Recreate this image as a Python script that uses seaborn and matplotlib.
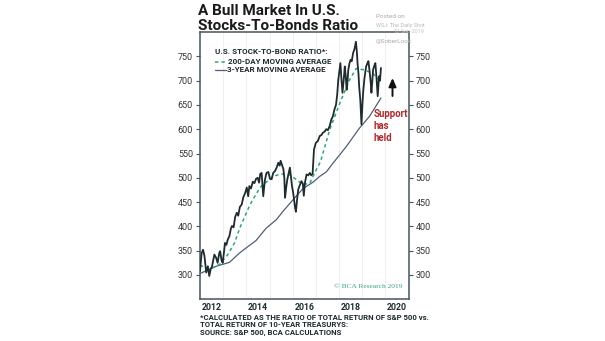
import matplotlib
matplotlib.use("Agg")
import matplotlib.pyplot as plt
import seaborn as sns
import pandas as pd

# ---- data (decimal years, ratio values) ----
main_years = [2012.00, 2012.07, 2012.13, 2012.19, 2012.27, 2012.34, 2012.40, 2012.46, 2012.52,
              2012.62, 2012.70, 2012.76, 2012.83, 2012.87, 2012.93, 2012.98, 2013.04, 2013.08,
              2013.14, 2013.20, 2013.27, 2013.33, 2013.38, 2013.45, 2013.52, 2013.59, 2013.65,
              2013.72, 2013.80, 2013.87, 2013.95, 2014.02, 2014.08, 2014.13, 2014.20, 2014.28,
              2014.35, 2014.42, 2014.49, 2014.55, 2014.60, 2014.66, 2014.73, 2014.80, 2014.87,
              2014.95, 2015.02, 2015.09, 2015.16, 2015.24, 2015.30, 2015.38, 2015.44, 2015.48,
              2015.55, 2015.60, 2015.64, 2015.67, 2015.72, 2015.77, 2015.83, 2015.88, 2015.92,
              2015.97, 2016.02, 2016.06, 2016.10, 2016.14, 2016.19, 2016.24, 2016.31, 2016.38,
              2016.44, 2016.48, 2016.53, 2016.60, 2016.67, 2016.74, 2016.80, 2016.86, 2016.89,
              2016.92, 2016.96, 2017.00, 2017.08, 2017.17, 2017.24, 2017.31, 2017.38, 2017.45,
              2017.52, 2017.60, 2017.67, 2017.74, 2017.80, 2017.87, 2017.92, 2017.97, 2018.02,
              2018.06, 2018.11, 2018.15, 2018.20, 2018.25, 2018.29, 2018.33, 2018.37, 2018.40,
              2018.45, 2018.50, 2018.55, 2018.61, 2018.67, 2018.73, 2018.77, 2018.80, 2018.84,
              2018.87, 2018.92, 2018.97, 2019.01, 2019.05, 2019.10, 2019.17, 2019.22, 2019.27,
              2019.33, 2019.37, 2019.40, 2019.44, 2019.47, 2019.52, 2019.57, 2019.62, 2019.67,
              2019.70, 2019.73, 2019.77, 2019.81]
main_values = [308, 345, 352, 340, 305, 318, 298, 312, 318,
               342, 335, 325, 345, 349, 330, 325, 350, 366,
               362, 373, 380, 395, 401, 398, 420, 428, 422,
               440, 445, 460, 469, 480, 462, 483, 478, 492,
               489, 498, 500, 490, 508, 510, 462, 495, 510,
               512, 498, 497, 510, 514, 520, 531, 525, 535,
               525, 518, 500, 459, 480, 497, 510, 521, 505,
               483, 470, 455, 440, 430, 455, 476, 485, 493,
               488, 463, 490, 507, 505, 510, 505, 508, 535,
               558, 565, 572, 575, 586, 588, 593, 595, 600,
               598, 607, 620, 627, 640, 650, 670, 702, 720,
               736, 700, 675, 700, 729, 710, 681, 700, 722,
               735, 743, 740, 757, 765, 780, 760, 736, 715,
               688, 660, 610, 650, 681, 705, 729, 735, 740,
               715, 695, 675, 700, 722, 730, 736, 705, 668,
               690, 709, 700, 726]

ma200_years = [2012.00, 2012.42, 2012.85, 2013.20, 2013.49, 2013.72, 2014.16, 2014.59, 2014.95,
               2015.16, 2015.50, 2015.88, 2016.17, 2016.45, 2016.74, 2016.88, 2017.10, 2017.20,
               2017.60, 2018.03, 2018.45, 2018.74, 2019.10, 2019.45, 2019.74, 2019.81]
ma200_values = [320, 312, 322, 342, 366, 397, 445, 480, 495,
                503, 508, 506, 496, 486, 489, 503, 524, 533,
                599, 653, 701, 725, 722, 715, 701, 703]

ma3y_years = [2012.00, 2012.70, 2013.27, 2013.70, 2014.00, 2014.42, 2014.85, 2015.30, 2015.60,
              2016.02, 2016.45, 2016.88, 2017.17, 2017.45, 2017.74, 2018.31, 2018.88, 2019.31,
              2019.81]
ma3y_values = [303, 318, 326, 345, 356, 371, 396, 414, 432,
               455, 478, 491, 503, 512, 530, 564, 602, 626,
               664]

y_ticks = [300, 350, 400, 450, 500, 550, 600, 650, 700, 750]
x_labels = ["2012", "2014", "2016", "2018", "2020"]
footnote_lines = ["*CALCULATED AS THE RATIO OF TOTAL RETURN OF S&P 500 vs.",
                  "TOTAL RETURN OF 10-YEAR TREASURYS:",
                  "SOURCE: S&P 500, BCA CALCULATIONS"]

# ---- style ----
sns.set_style("white")
plt.rcParams["font.family"] = ["Roboto", "DejaVu Sans"]

DARK = "#1e2b2f"
GREEN = "#2aa874"
SLATE = "#4d5f78"
SPINE = "#46555a"

fig = plt.figure(figsize=(6.05, 3.41), dpi=100)
ax = fig.add_axes([200 / 605, 1 - 299.3 / 341, 208.5 / 605, (299.3 - 32) / 341])

df_main = pd.DataFrame({"year": main_years, "value": main_values})
df_200 = pd.DataFrame({"year": ma200_years, "value": ma200_values})
df_3y = pd.DataFrame({"year": ma3y_years, "value": ma3y_values})

sns.lineplot(data=df_3y, x="year", y="value", ax=ax, color=SLATE, linewidth=0.9, zorder=3)
sns.lineplot(data=df_200, x="year", y="value", ax=ax, color=GREEN, linewidth=1.1,
             linestyle=(0, (2.2, 2.0)), zorder=4)
sns.lineplot(data=df_main, x="year", y="value", ax=ax, color=DARK, linewidth=1.3, zorder=5)

ax.set_xlim(2012, 2021)
ax.set_ylim(250, 800)
ax.set_xlabel("")
ax.set_ylabel("")

# year boundaries ticks (inside), labels at mid-year
years = list(range(2012, 2022))
ax.set_xticks(years)
ax.set_xticklabels([""] * len(years))
ax.set_xticks([int(l) + 0.5 for l in x_labels], minor=True)
ax.set_xticklabels(x_labels, minor=True, fontsize=6.3, fontweight="bold", color=DARK)
ax.tick_params(axis="x", which="major", direction="in", length=4, width=0.8, color=SPINE)
ax.tick_params(axis="x", which="minor", length=0, pad=2.5)
for yr in years[1:-1]:
    ax.axvline(yr, color="#eeeeee", linewidth=0.6, zorder=0)

ax.set_yticks(y_ticks)
ax.set_yticklabels([str(v) for v in y_ticks])
ax.tick_params(axis="y", which="major", direction="out", length=3, width=0.8, color=SPINE,
               left=True, right=True, labelleft=True, labelright=True,
               labelsize=6.5, labelcolor="#333333", pad=2)

for side in ["top", "bottom", "left", "right"]:
    ax.spines[side].set_visible(True)
    ax.spines[side].set_color(SPINE)
    ax.spines[side].set_linewidth(1.1)

# ---- legend-style text ----
LEG_FS = 5.75
fig.text(215 / 605, 1 - 52 / 341, "U.S. STOCK-TO-BOND RATIO*:",
         fontsize=LEG_FS, fontweight="bold", color=DARK, va="center", ha="left")
fig.lines.append(plt.Line2D([215 / 605, 226 / 605], [1 - 61.5 / 341] * 2, transform=fig.transFigure,
                            color=GREEN, linewidth=1.1, linestyle=(0, (2.2, 2.0))))
fig.text(228 / 605, 1 - 61.5 / 341, "200-DAY MOVING AVERAGE", fontsize=LEG_FS, fontweight="bold",
         color=DARK, va="center", ha="left")
fig.lines.append(plt.Line2D([215 / 605, 226 / 605], [1 - 69.5 / 341] * 2, transform=fig.transFigure,
                            color=SLATE, linewidth=0.9))
fig.text(227 / 605, 1 - 69.5 / 341, "3-YEAR MOVING AVERAGE", fontsize=LEG_FS, fontweight="bold",
         color=DARK, va="center", ha="left")

# annotation
fig.text(374 / 605, 1 - 126 / 341, "Support\nhas\nheld", fontsize=6.9, fontweight="bold",
         color="#b3262b", va="center", ha="left", linespacing=1.3)
ax.annotate("", xy=(392.5 / 605, 1 - 78 / 341), xytext=(392.5 / 605, 1 - 96 / 341),
            xycoords="figure fraction", textcoords="figure fraction",
            arrowprops=dict(arrowstyle="-|>,head_width=0.22,head_length=0.5", color="#111111",
                            lw=1.4, shrinkA=0, shrinkB=0))

fig.text(402 / 605, 1 - 286 / 341, "© BCA Research 2019", fontsize=5.4, color="#3aa57a",
         family=["Liberation Serif", "DejaVu Serif"], ha="right", va="center")

# title
fig.text(198 / 605, 1 - 4 / 341, "A Bull Market In U.S.\nStocks-To-Bonds Ratio", fontsize=11,
         fontweight="bold", color="#1a1a1a", ha="left", va="top", linespacing=1.05)

# posted-on block
fig.text(376 / 605, 1 - 17 / 341, "Posted on", fontsize=4.6, color="#aaaaaa", va="center")
fig.text(376 / 605, 1 - 25 / 341, "WSJ: The Daily Shot", fontsize=4, color="#bbbbbb", va="center")
fig.text(394 / 605, 1 - 31.5 / 341, "12-Sep-2019", fontsize=4, color="#c4c4c4", va="center")
fig.text(376 / 605, 1 - 42 / 341, "@SoberLook", fontsize=4.6, color="#aaaaaa", va="center")

# footnote
for i, line in enumerate(footnote_lines):
    fig.text(200 / 605, 1 - (317 + 7.8 * i) / 341, line,
             fontsize=5.6, fontweight="bold", color=DARK, ha="left", va="center")

fig.savefig("out.png", dpi=100, facecolor="white")
